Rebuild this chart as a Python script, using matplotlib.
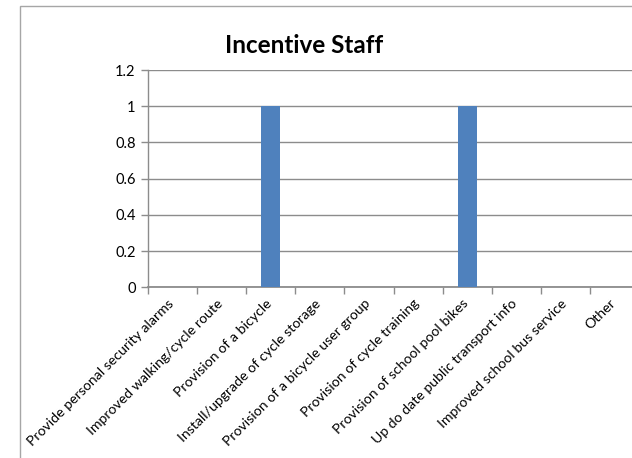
import matplotlib
matplotlib.use("Agg")
import matplotlib.pyplot as plt
from matplotlib.patches import Rectangle
from matplotlib.transforms import ScaledTranslation

categories = [
    "Provide personal security alarms",
    "Improved walking/cycle route",
    "Provision of a bicycle",
    "Install/upgrade of cycle storage",
    "Provision of a bicycle user group",
    "Provision of cycle training",
    "Provision of school pool bikes",
    "Up do date public transport info",
    "Improved school bus service",
    "Other",
]
values = [0, 0, 1, 0, 0, 0, 1, 0, 0, 0]
yticks = [0, 0.2, 0.4, 0.6, 0.8, 1, 1.2]
ytick_labels = ["0", "0.2", "0.4", "0.6", "0.8", "1", "1.2"]
title = "Incentive Staff"

W, H = 632, 458
plt.rcParams['font.family'] = ['Lato', 'DejaVu Sans']
fig = plt.figure(figsize=(W / 100, H / 100), dpi=100)
fig.patch.set_facecolor("white")

# chart border
fig.patches.append(Rectangle((20 / W, -0.2), 1.2, 1 - 6 / H + 0.2,
                             transform=fig.transFigure, fill=False,
                             edgecolor="#a6a6a6", linewidth=1.0))

ax = fig.add_axes([148 / W, 1 - 287.3 / H, 491 / W, 217.3 / H])
x = list(range(len(categories)))
ax.bar(x, values, width=0.39, color="#4F81BD", zorder=3)
ax.set_xlim(-0.5, len(categories) - 0.5)
ax.set_ylim(0, 1.2)
ax.set_yticks(yticks)
ax.set_yticklabels(ytick_labels, fontsize=10.5, color="black")
ax.yaxis.grid(True, color="#8c8c8c", linewidth=1.0, zorder=0)
ax.set_axisbelow(True)

ax.set_xticks([i - 0.5 for i in range(len(categories) + 1)])
ax.set_xticklabels([])
ax.tick_params(axis="x", which="major", length=5, color="#8c8c8c", width=1)
ax.tick_params(axis="y", length=5, color="#8c8c8c", width=1, pad=4)

trans = ax.get_xaxis_transform() + ScaledTranslation(-5 / 100, -10 / 100,
                                                     fig.dpi_scale_trans)
for i, lab in enumerate(categories):
    ax.text(i, 0, lab, transform=trans, rotation=45, ha="right", va="top",
            rotation_mode="anchor", fontsize=10.2, clip_on=False)

for s in ["top", "right"]:
    ax.spines[s].set_visible(False)
ax.spines["left"].set_color("#8c8c8c")
ax.spines["bottom"].set_color("#8c8c8c")
ax.spines["left"].set_linewidth(1.0)
ax.spines["bottom"].set_linewidth(1.3)

fig.text(304 / W, 1 - 53 / H, title, ha="center", va="baseline",
         fontsize=17.5, fontweight="bold")

fig.savefig("out.png", dpi=100)
